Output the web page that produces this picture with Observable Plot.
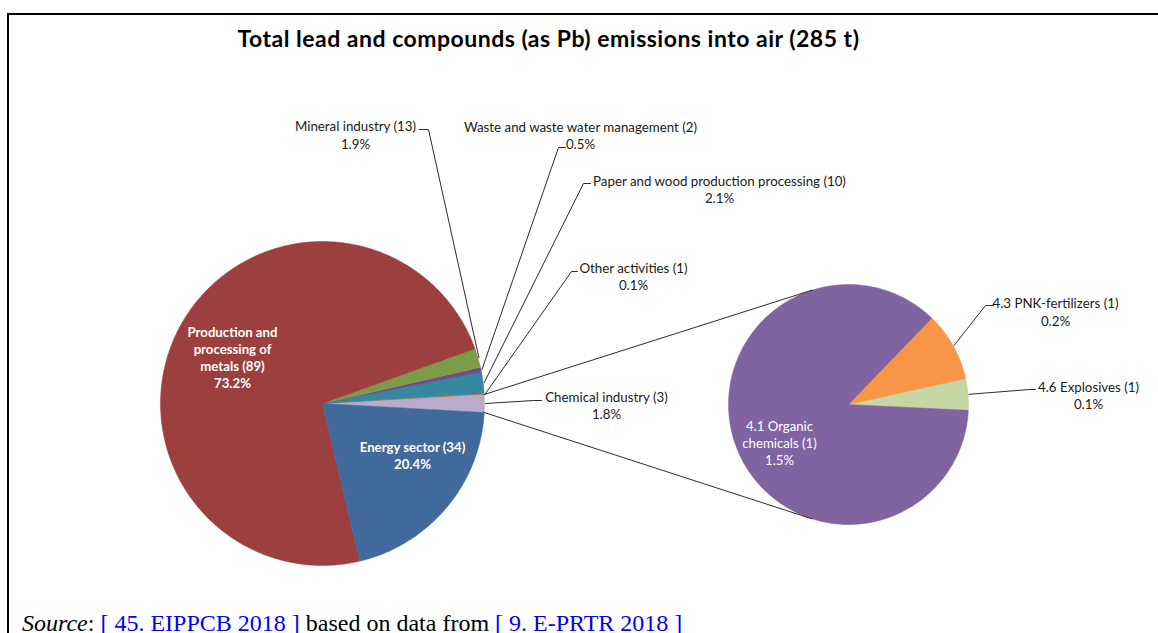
<!DOCTYPE html>
<html><head><meta charset="utf-8">
<script src="https://cdn.jsdelivr.net/npm/d3@7"></script>
<script src="https://cdn.jsdelivr.net/npm/@observablehq/plot@0.6"></script>
<style>
body{margin:0;background:#fff;width:1158px;height:633px;overflow:hidden;position:relative;font-family:Lato,"Open Sans",sans-serif;}
#frame{position:absolute;left:7px;top:13px;width:1200px;height:700px;border-top:2px solid #000;border-left:2px solid #000;}
#title{position:absolute;left:548.5px;top:23.5px;transform:translateX(-50%);white-space:nowrap;font-family:Lato,sans-serif;font-weight:bold;font-size:23px;letter-spacing:0.5px;line-height:28px;color:#000;}
#chart{position:absolute;left:0;top:62px;}
#source{position:absolute;left:22px;top:610px;font-family:"Liberation Serif","Times New Roman",serif;font-size:24px;line-height:26px;white-space:nowrap;color:#000;}
#source a{color:#0000ff;text-decoration:none}
</style></head><body>
<div id="frame"></div>
<div id="title"></div>
<div id="chart"></div>
<div id="source"><i>Source</i>: <a>[ 45. EIPPCB 2018 ]</a> based on data from <a>[ 9. E-PRTR 2018 ]</a></div>
<script>
// ---- data ----
const title = "Total lead and compounds (as Pb) emissions into air (285 t)";
const sectors = ["Chemical industry", "Other activities", "Paper and wood production processing", "Waste and waste water management", "Mineral industry", "Production and processing of metals", "Energy sector"];
const sectorCounts = [3, 1, 10, 2, 13, 89, 34];
const sectorShares = [1.77, 0.1, 2.1, 0.5, 1.9, 73.2, 20.4];
const chemSubs = ["4.6 Explosives", "4.3 PNK-fertilizers", "4.1 Organic chemicals"];
const chemCounts = [1, 1, 1];
const chemShares = [0.075, 0.165, 1.53];

// ---- styles / layout ----
const sectorColors = ["#B8ACCC", "#E0703C", "#35889E", "#6C4E8E", "#7E9B48", "#9B403E", "#3F6A9B"];
const chemColors = ["#C4D7A4", "#F79646", "#8064A2"];
const W = 1158, H = 540, TOP = 62;
const mainPie = {cx: 322, cy: 403, r: 162};
const subPie = {cx: 848, cy: 404, r: 120, start: -2.8};
const outsideLabels = {
  "Mineral industry": {x: 355, y: 134, elbow: [428, 129], end: [419, 129]},
  "Waste and waste water management": {x: 580, y: 134.5, elbow: [558, 147], end: [565, 147]},
  "Paper and wood production processing": {x: 719, y: 188.5, elbow: [583, 183], end: [590, 183]},
  "Other activities": {x: 633, y: 275.5, elbow: [571, 271], end: [577, 271]},
  "Chemical industry": {x: 606, y: 404.5, elbow: [533, 400], end: [541, 400]},
  "4.3 PNK-fertilizers": {x: 1055, y: 311, elbow: [985, 305], end: [993, 305]},
  "4.6 Explosives": {x: 1088, y: 394.5, elbow: [1029, 389], end: [1035, 389]}
};
const insideLabels = {
  "Production and processing of metals": {x: 232, y: 356.5, bold: true, lineWidth: 8},
  "Energy sector": {x: 412, y: 454.5, bold: true, lineWidth: 20},
  "4.1 Organic chemicals": {x: 779, y: 442, bold: false, lineWidth: 8}
};

document.getElementById("title").textContent = title;

const deg = Math.PI / 180;
function slices(shares, startDeg) {
  const total = d3.sum(shares);
  let a = startDeg;
  return shares.map((v, i) => {
    const span = v / total * 360;
    const s = {i, a0: a, a1: a + span, mid: a + span / 2};
    a += span;
    return s;
  });
}
const pt = (pie, ang, rr = pie.r) => ({x: pie.cx + rr * Math.cos(ang * deg), y: pie.cy - rr * Math.sin(ang * deg)});
function wedge(pie, s) {
  const pts = [{x: pie.cx, y: pie.cy}];
  const n = Math.max(2, Math.ceil(s.a1 - s.a0));
  for (let k = 0; k <= n; k++) pts.push(pt(pie, s.a0 + (s.a1 - s.a0) * k / n));
  pts.push({x: pie.cx, y: pie.cy});
  return pts;
}
function tangent(P, pie, sign) {
  const dx = P.x - pie.cx, dy = -(P.y - pie.cy);
  const phi = Math.atan2(dy, dx) / deg;
  const th = Math.acos(pie.r / Math.hypot(dx, dy)) / deg;
  return pt(pie, phi - sign * th);
}

const mainTotal = d3.sum(sectorShares);
const mainSlices = slices(sectorShares, -sectorShares[0] / mainTotal * 360 / 2);
const subSlices = slices(chemShares, subPie.start);

const marks = [];
// wedges
mainSlices.forEach(s => marks.push(Plot.line(wedge(mainPie, s), {x: "x", y: "y", fill: sectorColors[s.i], stroke: sectorColors[s.i], strokeWidth: 0.5})));
subSlices.forEach(s => marks.push(Plot.line(wedge(subPie, s), {x: "x", y: "y", fill: chemColors[s.i], stroke: chemColors[s.i], strokeWidth: 0.5})));
// connectors
const c = mainSlices[0];
const p1 = pt(mainPie, c.a1), p2 = pt(mainPie, c.a0);
marks.push(Plot.line([p1, tangent(p1, subPie, 1)], {x: "x", y: "y", stroke: "#2b2b2b", strokeWidth: 1}));
marks.push(Plot.line([p2, tangent(p2, subPie, -1)], {x: "x", y: "y", stroke: "#2b2b2b", strokeWidth: 1}));

// labels
const allLabels = [];
sectors.forEach((name, i) => allLabels.push({name, count: sectorCounts[i], share: sectorShares[i], pie: mainPie, slice: mainSlices[i]}));
chemSubs.forEach((name, i) => allLabels.push({name, count: chemCounts[i], share: chemShares[i], pie: subPie, slice: subSlices[i]}));

allLabels.forEach(d => {
  const txt = `${d.name} (${d.count})\n${d.share.toFixed(1)}%`;
  const o = outsideLabels[d.name];
  if (o) {
    const edge = pt(d.pie, d.slice.mid, d.pie.r + 1);
    marks.push(Plot.line([edge, {x: o.elbow[0], y: o.elbow[1]}, {x: o.end[0], y: o.end[1]}], {x: "x", y: "y", stroke: "#2b2b2b", strokeWidth: 1}));
    marks.push(Plot.text([o], {x: "x", y: "y", text: () => txt, fontSize: 13.3, lineHeight: 1.3, fill: "#1a1a1a", fontFamily: "Lato, sans-serif", textAnchor: "middle", lineAnchor: "middle"}));
  }
  const ins = insideLabels[d.name];
  if (ins) {
    marks.push(Plot.text([ins], {x: "x", y: "y", text: () => txt, fontSize: 13.2, lineHeight: 1.3, lineWidth: ins.lineWidth, fill: "white", fontWeight: ins.bold ? "bold" : "normal", fontFamily: "Lato, sans-serif", textAnchor: "middle", lineAnchor: "middle"}));
  }
});

const chart = Plot.plot({
  width: W, height: H,
  margin: 0,
  x: {domain: [0, W], range: [0, W], axis: null},
  y: {domain: [TOP, TOP + H], range: [0, H], axis: null},
  style: {background: "transparent", overflow: "visible"},
  marks
});
document.getElementById("chart").appendChild(chart);
</script>
</body></html>
